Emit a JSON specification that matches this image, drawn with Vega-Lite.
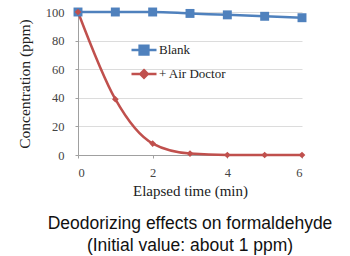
{
  "$schema": "https://vega.github.io/schema/vega-lite/v6.json",
  "width": 224,
  "height": 143,
  "autosize": {"type": "none"},
  "padding": {"left": 78, "top": 12, "right": 48, "bottom": 101},
  "background": "white",
  "title": {
    "text": ["Deodorizing effects on formaldehyde", "(Initial value: about 1 ppm)"],
    "orient": "bottom",
    "anchor": "middle",
    "frame": "group",
    "font": "Liberation Sans",
    "fontSize": 17.5,
    "fontWeight": "normal",
    "color": "#111111",
    "lineHeight": 22,
    "offset": 16
  },
  "data": {
    "values": [
      {"time": 0, "series": "Blank", "conc": 100},
      {"time": 1, "series": "Blank", "conc": 100},
      {"time": 2, "series": "Blank", "conc": 100},
      {"time": 3, "series": "Blank", "conc": 99},
      {"time": 4, "series": "Blank", "conc": 98},
      {"time": 5, "series": "Blank", "conc": 97},
      {"time": 6, "series": "Blank", "conc": 96},
      {"time": 0, "series": "+ Air Doctor", "conc": 100},
      {"time": 1, "series": "+ Air Doctor", "conc": 39},
      {"time": 2, "series": "+ Air Doctor", "conc": 8},
      {"time": 3, "series": "+ Air Doctor", "conc": 1},
      {"time": 4, "series": "+ Air Doctor", "conc": 0},
      {"time": 5, "series": "+ Air Doctor", "conc": 0},
      {"time": 6, "series": "+ Air Doctor", "conc": 0}
    ]
  },
  "encoding": {
    "x": {
      "field": "time", "type": "quantitative",
      "scale": {"domain": [0, 6], "nice": false},
      "axis": {
        "values": [0, 2, 4, 6], "title": "Elapsed time (min)", "grid": false,
        "labelFont": "Liberation Serif", "labelFontSize": 12.5, "labelColor": "#444",
        "titleFont": "Liberation Serif", "titleFontSize": 15, "titleFontWeight": "normal", "titleColor": "#222",
        "domainColor": "#a0a0a0", "tickColor": "#a0a0a0", "tickSize": 3, "labelPadding": 8, "titlePadding": 5
      }
    },
    "y": {
      "field": "conc", "type": "quantitative",
      "scale": {"domain": [0, 100], "nice": false},
      "axis": {
        "values": [0, 20, 40, 60, 80, 100], "title": "Concentration (ppm)",
        "gridColor": "#dcdcdc", "gridWidth": 1,
        "labelFont": "Liberation Serif", "labelFontSize": 12.5, "labelColor": "#444",
        "titleFont": "Liberation Serif", "titleFontSize": 15.5, "titleFontWeight": "normal", "titleColor": "#222",
        "domainColor": "#a0a0a0", "tickColor": "#a0a0a0", "tickSize": 3, "labelPadding": 11, "titlePadding": 13
      }
    },
    "color": {
      "field": "series", "type": "nominal",
      "scale": {"domain": ["Blank", "+ Air Doctor"], "range": ["#4f81bd", "#c0504d"]},
      "legend": {
        "orient": "none", "legendX": 52, "legendY": 24, "title": null,
        "labelFont": "Liberation Serif", "labelFontSize": 13, "labelColor": "#222",
        "rowPadding": -3, "labelOffset": 1, "symbolSize": 625, "symbolStrokeWidth": 2.5,
        "encode": {
          "symbols": {
            "update": {
              "shape": {"signal": "datum.value === 'Blank' ? 'M-1,0H1M-0.35,-0.35H0.35V0.35H-0.35Z' : 'M-1,0H1M0,-0.3L0.3,0L0,0.3L-0.3,0Z'"},
              "fill": {"signal": "datum.value === 'Blank' ? '#4f81bd' : '#c0504d'"},
              "stroke": {"signal": "datum.value === 'Blank' ? '#4f81bd' : '#c0504d'"},
              "strokeWidth": {"value": 2.5},
              "size": {"value": 625},
              "opacity": {"value": 1}
            }
          }
        }
      }
    }
  },
  "layer": [
    {
      "mark": {"type": "line", "interpolate": "monotone", "strokeWidth": 2.5}
    },
    {
      "mark": {"type": "point", "filled": true, "opacity": 1},
      "encoding": {
        "shape": {"condition": {"test": "datum.series === 'Blank'", "value": "square"}, "value": "diamond"},
        "size": {"condition": {"test": "datum.series === 'Blank'", "value": 80}, "value": 45}
      }
    }
  ],
  "config": {
    "view": {"stroke": null}
  }
}
